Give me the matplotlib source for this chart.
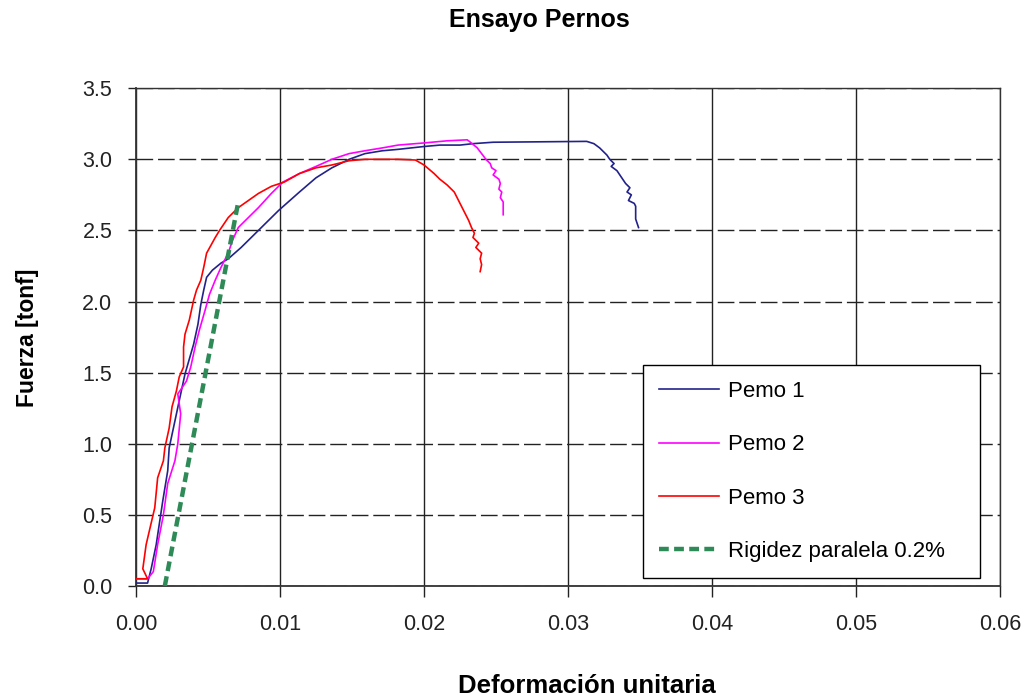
import matplotlib.pyplot as plt

plt.rcParams['font.family'] = ['Liberation Sans', 'DejaVu Sans']

# Perno 1 (deformación, fuerza)
p1_def = [0.0, 0.0005, 0.0008, 0.00105, 0.0014, 0.00186, 0.0022, 0.0023, 0.0027, 0.0031, 0.0034,
          0.0040, 0.0043, 0.0045, 0.0047, 0.0049, 0.0053, 0.0059, 0.0064, 0.0073, 0.0085, 0.0099,
          0.01135, 0.0125, 0.0136, 0.0148, 0.0159, 0.0171, 0.0182, 0.0200, 0.0211, 0.0225, 0.0234,
          0.0248, 0.0313, 0.0318, 0.0322, 0.0327, 0.0329, 0.0332, 0.0330, 0.0334, 0.0336, 0.0340,
          0.0343, 0.0341, 0.0344, 0.0342, 0.0346, 0.0347, 0.0347, 0.0349]
p1_f = [0.02, 0.02, 0.02, 0.12, 0.29, 0.60, 0.81, 0.97, 1.16, 1.35, 1.49,
        1.70, 1.84, 1.98, 2.08, 2.17, 2.22, 2.27, 2.30, 2.38, 2.50, 2.64,
        2.77, 2.87, 2.94, 3.00, 3.04, 3.06, 3.07, 3.09, 3.10, 3.10, 3.11,
        3.12, 3.126, 3.11, 3.08, 3.03, 3.00, 2.97, 2.95, 2.92, 2.89, 2.83,
        2.80, 2.77, 2.75, 2.71, 2.69, 2.67, 2.58, 2.52]

# Perno 2
p2_def = [0.0, 0.0008, 0.0012, 0.0015, 0.0019, 0.0022, 0.0027, 0.0029, 0.0031, 0.0029, 0.0035,
          0.0038, 0.0041, 0.0044, 0.0048, 0.0051, 0.0055, 0.0059, 0.0064, 0.0067, 0.0071, 0.0078,
          0.0085, 0.0094, 0.0102, 0.01135, 0.0125, 0.0136, 0.0148, 0.0159, 0.0171, 0.0182, 0.0200,
          0.0216, 0.0230, 0.0233, 0.0237, 0.0240, 0.0243, 0.0246, 0.0247, 0.0250, 0.0248, 0.0252,
          0.0253, 0.0252, 0.0254, 0.0253, 0.0255, 0.0255, 0.0255]
p2_f = [0.05, 0.05, 0.10, 0.29, 0.50, 0.72, 0.88, 1.00, 1.21, 1.35, 1.44,
        1.54, 1.68, 1.80, 1.94, 2.05, 2.15, 2.24, 2.34, 2.43, 2.52, 2.59,
        2.66, 2.76, 2.84, 2.90, 2.95, 3.00, 3.04, 3.06, 3.08, 3.10, 3.115,
        3.13, 3.137, 3.114, 3.08, 3.04, 3.00, 2.97, 2.94, 2.92, 2.89, 2.86,
        2.83, 2.79, 2.77, 2.73, 2.70, 2.66, 2.61]

# Perno 3
p3_def = [0.0, 0.0008, 0.00047, 0.0007, 0.0013, 0.0015, 0.0019, 0.0020, 0.0023, 0.0025, 0.0028,
          0.0030, 0.0033, 0.0033, 0.0034, 0.0037, 0.0040, 0.0042, 0.0045, 0.0047, 0.0049, 0.0055,
          0.0058, 0.0064, 0.0071, 0.0078, 0.0085, 0.0094, 0.0103, 0.01135, 0.0125, 0.0136, 0.0148,
          0.0159, 0.0182, 0.0194, 0.0200, 0.0207, 0.0211, 0.0216, 0.0221, 0.0224, 0.0226, 0.0229,
          0.0231, 0.0233, 0.0235, 0.0234, 0.0238, 0.0236, 0.0240, 0.0239, 0.0240, 0.0239]
p3_f = [0.05, 0.05, 0.12, 0.29, 0.55, 0.76, 0.88, 0.97, 1.11, 1.26, 1.37,
        1.47, 1.54, 1.68, 1.77, 1.87, 2.01, 2.08, 2.15, 2.24, 2.34, 2.45,
        2.50, 2.59, 2.66, 2.71, 2.76, 2.81, 2.84, 2.90, 2.94, 2.96, 2.99,
        3.00, 3.00, 2.995, 2.96, 2.90, 2.86, 2.82, 2.77, 2.71, 2.67, 2.61,
        2.57, 2.52, 2.48, 2.45, 2.41, 2.38, 2.34, 2.30, 2.26, 2.21]

# Recta paralela a la rigidez inicial, desplazada 0.2%
rig_def = [0.0020, 0.0071]
rig_f = [0.0, 2.70]

fig = plt.figure(figsize=(10.26, 7.0), dpi=100)
ax = fig.add_axes([0.1326, 0.163, 0.842, 0.711])

ax.plot(p1_def, p1_f, color='#22228a', lw=1.2, label='Pemo 1', zorder=3)
ax.plot(p2_def, p2_f, color='#ff00ff', lw=1.2, label='Pemo 2', zorder=3)
ax.plot(p3_def, p3_f, color='#ff0000', lw=1.2, label='Pemo 3', zorder=3)
ax.plot(rig_def, rig_f, color='#2e8b57', lw=3.2, ls=(0, (2.2, 1.2)),
        label='Rigidez paralela 0.2%', zorder=4)

ax.set_xlim(0, 0.06)
ax.set_ylim(0, 3.5)
ax.set_xticks([0.0, 0.01, 0.02, 0.03, 0.04, 0.05, 0.06])
ax.set_xticklabels(['0.00', '0.01', '0.02', '0.03', '0.04', '0.05', '0.06'])
ax.set_yticks([0.0, 0.5, 1.0, 1.5, 2.0, 2.5, 3.0, 3.5])
ax.set_yticklabels(['0.0', '0.5', '1.0', '1.5', '2.0', '2.5', '3.0', '3.5'])
ax.tick_params(axis='both', direction='out', length=6, width=1, colors='#222222',
               labelsize=15.5, pad=11)
ax.tick_params(axis='x', length=8, pad=12)

# cuadrícula: verticales continuas, horizontales a trazos
ax.xaxis.grid(True, color='#222222', lw=1, ls='-')
ax.yaxis.grid(True, color='#222222', lw=1, ls=(0, (12, 3.5)))
ax.set_axisbelow(True)
for s in ax.spines.values():
    s.set_color('#333333')
    s.set_linewidth(1)
ax.spines['left'].set_linewidth(1.3)
ax.spines['bottom'].set_linewidth(1.3)

leg = ax.legend(loc='lower left', bbox_to_anchor=(0.587, 0.016, 0.39, 0.436), mode='expand',
                fontsize=16, frameon=True, fancybox=False, edgecolor='black',
                handlelength=2.7, handletextpad=0.4, labelspacing=1.45, borderpad=0.72,
                borderaxespad=0)
leg.get_frame().set_linewidth(1)
leg.get_frame().set_alpha(1)

fig.text(0.526, 0.971, 'Ensayo Pernos', ha='center', va='center', fontsize=18, fontweight='bold')
fig.text(0.572, 0.02, 'Deformación unitaria', ha='center', va='center', fontsize=18.5,
         fontweight='bold')
fig.text(0.027, 0.517, 'Fuerza [tonf]', ha='center', va='center', rotation=90,
         fontsize=16.5, fontweight='bold')

fig.savefig('out.png', dpi=100)
